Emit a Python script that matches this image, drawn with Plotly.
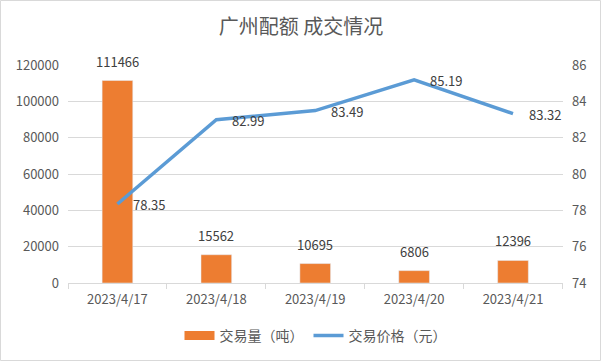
import plotly.graph_objects as go

dates = ["2023/4/17", "2023/4/18", "2023/4/19", "2023/4/20", "2023/4/21"]
volume = [111466, 15562, 10695, 6806, 12396]
price = [78.35, 82.99, 83.49, 85.19, 83.32]

W, H = 602, 362
L, R, T, B = 68, 39, 65, 79

font = "Noto Sans CJK SC, Noto Sans, sans-serif"
ORANGE = "#ED7D31"
BLUE = "#5B9BD5"
TXT = "#595959"
LBL = "#404040"

fig = go.Figure()
fig.add_trace(go.Bar(
    x=dates, y=volume, name="交易量（吨）", marker_color=ORANGE,
    width=0.31, showlegend=False,
))
fig.add_trace(go.Scatter(
    x=dates, y=price, name="交易价格（元）", yaxis="y2", mode="lines",
    line=dict(color=BLUE, width=3.5), showlegend=False, cliponaxis=False,
))
# legend entries
fig.add_trace(go.Scatter(x=[None], y=[None], name="交易量（吨）", mode="lines",
                         line=dict(color=ORANGE, width=9)))
fig.add_trace(go.Scatter(x=[None], y=[None], name="交易价格（元）", mode="lines",
                         line=dict(color=BLUE, width=3.5)))

for d, v in zip(dates, volume):
    fig.add_annotation(x=d, y=v, xref="x", yref="y", text=str(v), showarrow=False,
                       yanchor="bottom", yshift=8, font=dict(size=13, color=LBL))
for d, p in zip(dates, price):
    fig.add_annotation(x=d, y=p, xref="x", yref="y2", text=f"{p:.2f}", showarrow=False,
                       xanchor="left", xshift=14, yshift=-1, font=dict(size=13, color=LBL))

fig.update_layout(
    width=W, height=H,
    margin=dict(l=L, r=R, t=T, b=B, autoexpand=False),
    paper_bgcolor="white", plot_bgcolor="white",
    font=dict(family=font, color=TXT, size=13),
    title=dict(text="广州配额 成交情况", x=0.5, xanchor="center",
               y=1 - 27 / H, yanchor="middle", yref="container",
               font=dict(size=20, color=TXT)),
    showlegend=True,
    legend=dict(orientation="h", x=0.5, xanchor="center", y=-53 / (H - T - B), yanchor="middle",
                font=dict(size=14, color=TXT), itemwidth=30, tracegroupgap=0),
    xaxis=dict(showgrid=False, showline=True, linecolor="#D9D9D9", ticks="outside",
               tickson="boundaries", tickcolor="#D9D9D9", ticklen=5,
               tickfont=dict(size=13, color=TXT), type="category", ticklabelstandoff=4),
    yaxis=dict(range=[0, 120000], dtick=20000, showgrid=True, gridcolor="#D9D9D9",
               zeroline=False, showline=False, tickfont=dict(size=13, color=TXT),
               tickformat="d", ticklabelstandoff=8),
    yaxis2=dict(range=[74, 86], dtick=2, overlaying="y", side="right", showgrid=False,
                zeroline=False, showline=False, tickfont=dict(size=13, color=TXT),
                ticklabelstandoff=8),
)
fig.add_shape(type="rect", xref="x domain", yref="y domain",
              x0=-(L - 0.5) / (W - L - R), x1=1 + (R - 1.5) / (W - L - R),
              y0=-(B - 1.5) / (H - T - B), y1=1 + (T - 0.5) / (H - T - B),
              line=dict(color="#D9D9D9", width=1))

fig.write_html("out.html", post_script="document.body.style.margin='0';",
               config={"displayModeBar": False})
